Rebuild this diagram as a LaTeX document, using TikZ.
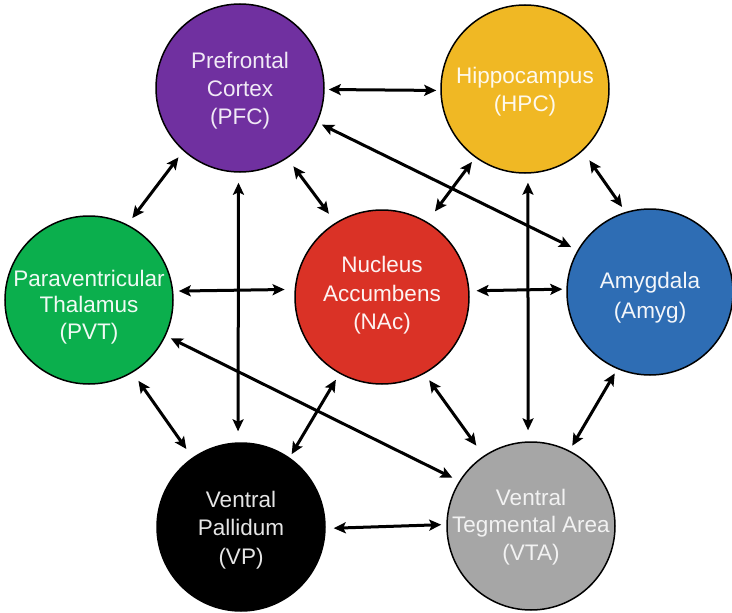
\documentclass[tikz,border=0pt]{standalone}
\usepackage{fontspec}
\setmainfont{Liberation Sans}
\usetikzlibrary{arrows.meta}
\definecolor{cPFC}{RGB}{112,48,160}
\definecolor{cHPC}{RGB}{240,184,36}
\definecolor{cPVT}{RGB}{11,175,77}
\definecolor{cNAc}{RGB}{218,50,38}
\definecolor{cAmyg}{RGB}{46,109,180}
\definecolor{cVP}{RGB}{0,0,0}
\definecolor{cVTA}{RGB}{166,166,166}
\begin{document}
\begin{tikzpicture}[x=1pt,y=-1pt,
  region/.style={circle, draw=black, line width=1.5pt, minimum size=168pt, inner sep=0pt},
  txt/.style={align=center, inner sep=0pt, font=\fontsize{22.5}{28.3}\selectfont},
  link/.style={line width=3pt,
    {Stealth[length=12pt,width=11pt,inset=2.5pt]}-{Stealth[length=12pt,width=11pt,inset=2.5pt]}},
]
\useasboundingbox (0,0) rectangle (732,613);

\node[region, fill=cPFC,
  label={[txt, text=white!90!cPFC, yshift=-2.8pt]center:{Prefrontal\\Cortex\\(PFC)}}] (PFC) at (240,88) {};
\node[region, fill=cHPC,
  label={[txt, text=white!92!cHPC, yshift=-2.9pt, font=\fontsize{22.5}{27.7}\selectfont]center:{Hippocampus\\(HPC)}}] (HPC) at (525,89) {};
\node[region, fill=cPVT,
  label={[txt, text=white!94!cPVT, yshift=-7pt, font=\fontsize{22.5}{26.3}\selectfont]center:{Paraventricular\\Thalamus\\(PVT)}}] (PVT) at (89,300) {};
\node[region, fill=cNAc, minimum size=174pt,
  label={[txt, text=white!94!cNAc, yshift=1.7pt]center:{Nucleus\\Accumbens\\(NAc)}}] (NAc) at (382,297) {};
\node[region, fill=cAmyg, minimum size=166pt,
  label={[txt, text=white!94!cAmyg, yshift=-5.4pt, font=\fontsize{22.5}{30}\selectfont]center:{Amygdala\\(Amyg)}}] (Amyg) at (650,292) {};
\node[region, fill=cVP,
  label={[txt, text=white!90!cVP, yshift=-3.1pt]center:{Ventral\\Pallidum\\(VP)}}] (VP) at (241,527) {};
\node[region, fill=cVTA,
  label={[txt, text=white!85!cVTA, yshift=-0.8pt, font=\fontsize{22.5}{27.5}\selectfont]center:{Ventral\\Tegmental Area\\(VTA)}}] (VTA) at (531,526) {};

% connectors
\draw[link, shorten <=4pt, shorten >=4pt] (PFC.-1.6) -- (HPC.181.3);
\draw[link, shorten <=5pt, shorten >=7pt] (PFC.-24.3) -- (Amyg.150.9);
\draw[link, shorten <=8pt, shorten >=8pt] (PFC.-132.1) -- (PVT.63.4);
\draw[link, shorten <=10pt, shorten >=11pt] (PFC.-56.5) -- (NAc.122.1);
\draw[link, shorten <=10pt, shorten >=11pt] (PFC.-91.5) -- (VP.92.1);
\draw[link, shorten <=5.5pt, shorten >=13pt] (HPC.-126.4) -- (NAc.59.6);
\draw[link, shorten <=9pt, shorten >=11pt] (HPC.-88.8) -- (VTA.92.4);
\draw[link, shorten <=11.5pt, shorten >=6pt] (HPC.-47.1) -- (Amyg.107.4);
\draw[link, shorten <=5.5pt, shorten >=10pt] (PVT.6.4) -- (NAc.175.9);
\draw[link, shorten <=7pt, shorten >=4pt] (NAc.4.3) -- (Amyg.178.7);
\draw[link, shorten <=5.5pt, shorten >=7.5pt] (PVT.-25.1) -- (VTA.148.4);
\draw[link, shorten <=10pt, shorten >=10.5pt] (PVT.-59.5) -- (VP.125.5);
\draw[link, shorten <=7pt, shorten >=4pt] (NAc.-119.9) -- (VP.55.6);
\draw[link, shorten <=8pt, shorten >=12.5pt] (NAc.-61.2) -- (VTA.124);
\draw[link, shorten <=5pt, shorten >=5.5pt] (Amyg.-113.3) -- (VTA.63.4);
\draw[link, shorten <=8pt, shorten >=5pt] (VP.-1) -- (VTA.179.5);
\end{tikzpicture}
\end{document}
